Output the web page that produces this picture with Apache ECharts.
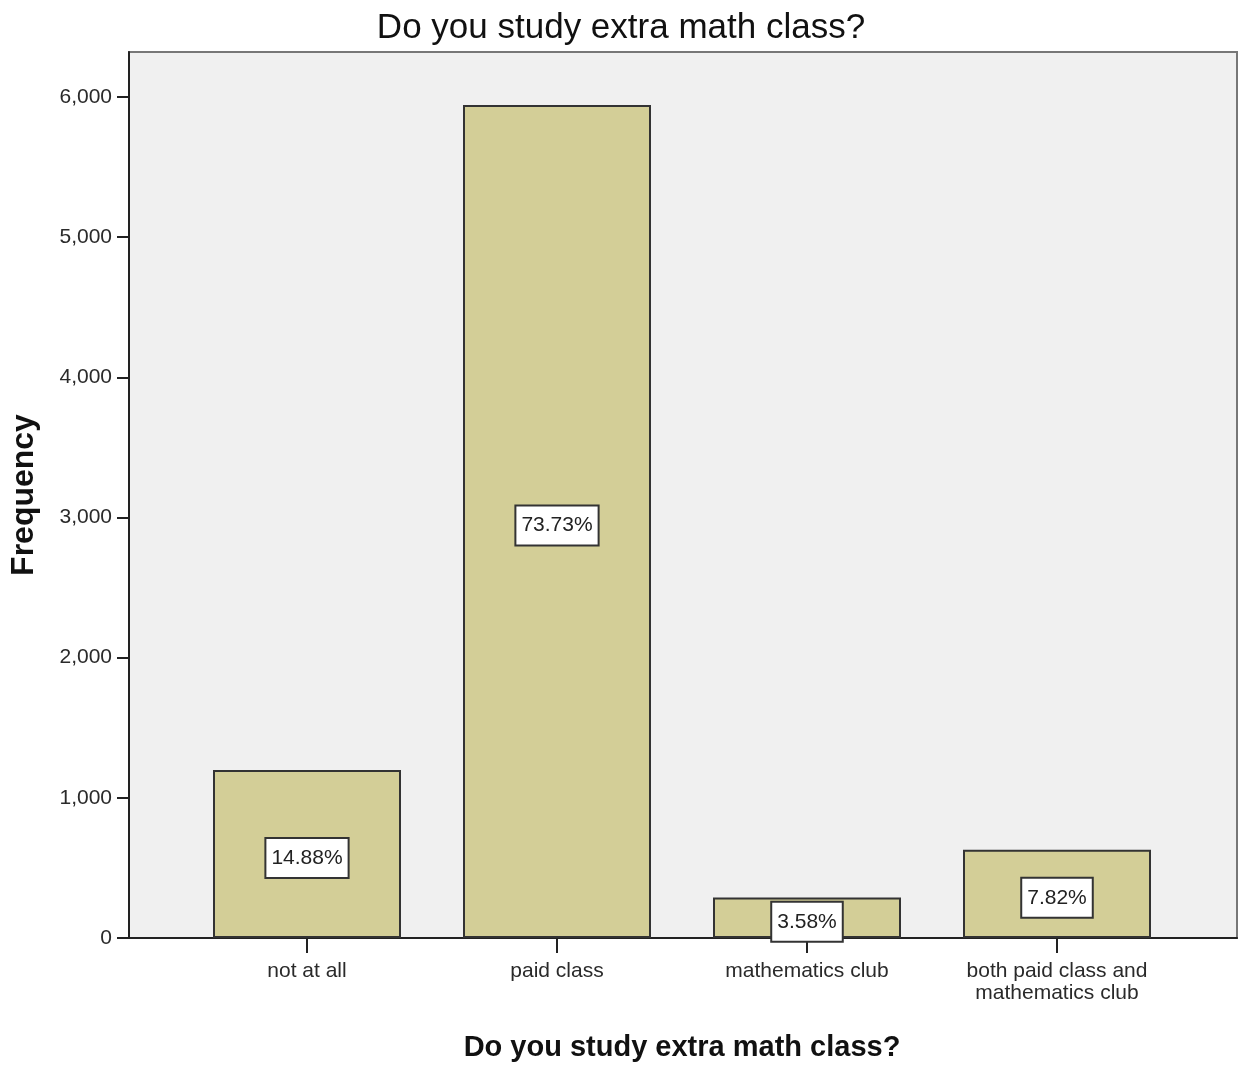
<!DOCTYPE html>
<html>
<head>
<meta charset="utf-8">
<script src="https://cdn.jsdelivr.net/npm/echarts@6/dist/echarts.min.js"></script>
<style>
html,body{margin:0;padding:0;background:#fff;}
#chart{width:1242px;height:1068px;}
</style>
</head>
<body>
<div id="chart"></div>
<script>
var chartTitle = 'Do you study extra math class?';
var categories = ['not at all', 'paid class', 'mathematics club', 'both paid class and\nmathematics club'];
var frequencies = [1199, 5942, 289, 630];
var percentLabels = ['14.88%', '73.73%', '3.58%', '7.82%'];
var yTicks = [0, 1000, 2000, 3000, 4000, 5000, 6000];
var yMax = 6321;

var FONT = '"Liberation Sans", Arial, sans-serif';
var chart = echarts.init(document.getElementById('chart'));

var option = {
  backgroundColor: '#ffffff',
  animation: false,
  title: {
    text: chartTitle,
    left: 'center',
    top: 6,
    textStyle: { fontFamily: FONT, fontSize: 35, fontWeight: 'normal', color: '#111' }
  },
  grid: [
    { left: 127, right: 5, top: 52, bottom: 130, show: true, backgroundColor: '#f0f0f0', borderColor: '#777', borderWidth: 2 },
    { left: 182, right: 60, top: 52, bottom: 130 }
  ],
  xAxis: [
    {
      gridIndex: 0, type: 'category', data: categories, boundaryGap: true,
      axisLine: { show: true, lineStyle: { color: '#222', width: 2 } },
      axisTick: { show: false }, axisLabel: { show: false }, splitLine: { show: false }
    },
    {
      gridIndex: 1, type: 'category', data: categories, boundaryGap: true,
      axisLine: { show: false },
      axisTick: { show: true, alignWithLabel: true, length: 15, lineStyle: { color: '#222', width: 2 } },
      axisLabel: { fontFamily: FONT, fontSize: 21, color: '#2a2a2a', margin: 22, lineHeight: 22 },
      name: chartTitle,
      nameLocation: 'middle',
      nameGap: 95,
      nameTextStyle: { fontFamily: FONT, fontSize: 29, fontWeight: 'bold', color: '#111' }
    }
  ],
  yAxis: [
    {
      gridIndex: 0, type: 'value', min: 0, max: yMax,
      axisLine: { show: true, lineStyle: { color: '#222', width: 2 } },
      axisTick: { show: true, length: 12, customValues: yTicks, lineStyle: { color: '#222', width: 2 } },
      axisLabel: {
        customValues: yTicks,
        fontFamily: FONT, fontSize: 21, color: '#2a2a2a', margin: 17,
        formatter: function (v) { return v.toLocaleString('en-US'); }
      },
      splitLine: { show: false },
      name: 'Frequency',
      nameLocation: 'middle',
      nameGap: 89,
      nameTextStyle: { fontFamily: FONT, fontSize: 32, fontWeight: 'bold', color: '#111' }
    },
    {
      gridIndex: 1, type: 'value', min: 0, max: yMax, show: false, splitLine: { show: false }
    }
  ],
  series: [
    {
      type: 'bar',
      xAxisIndex: 1,
      yAxisIndex: 1,
      data: frequencies,
      barWidth: 188,
      itemStyle: { color: '#d3ce97', borderColor: '#333', borderWidth: 2 },
      label: {
        show: true,
        position: 'inside',
        offset: [0, 4],
        formatter: function (p) { return percentLabels[p.dataIndex]; },
        fontFamily: FONT,
        fontSize: 21,
        color: '#222',
        backgroundColor: '#ffffff',
        borderColor: '#333',
        borderWidth: 2,
        padding: [9, 5, 8, 5]
      }
    }
  ]
};
chart.setOption(option);
</script>
</body>
</html>
